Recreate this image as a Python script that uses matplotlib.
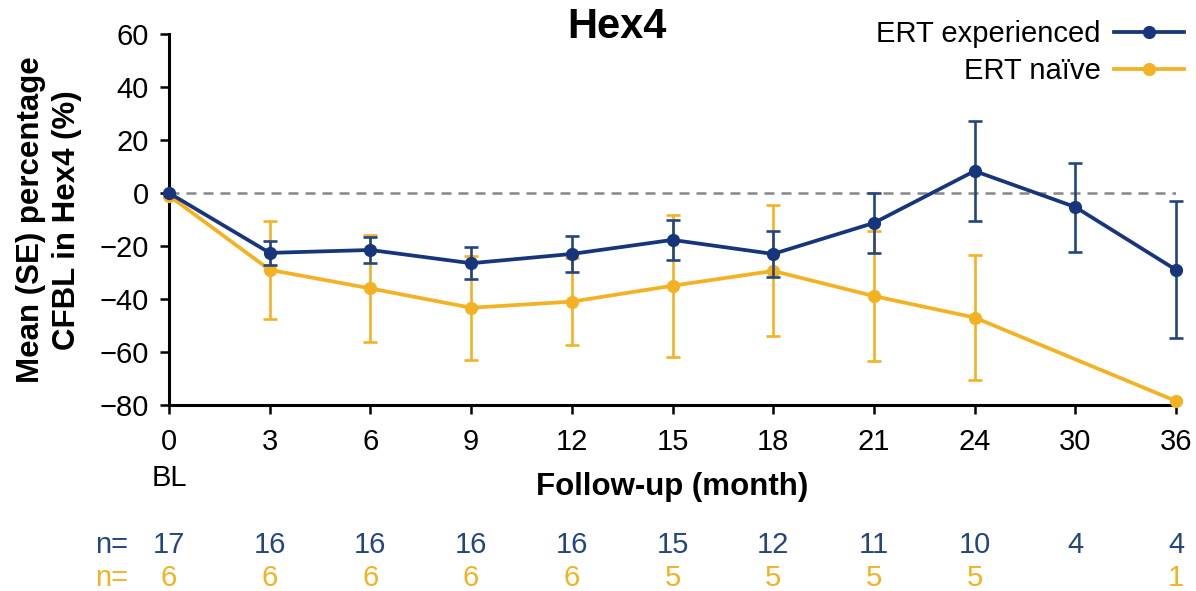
import matplotlib
matplotlib.use("Agg")
import matplotlib.pyplot as plt
from matplotlib.lines import Line2D
import numpy as np

plt.rcParams['font.family'] = ['Liberation Sans', 'DejaVu Sans']

# data
months = ['0', '3', '6', '9', '12', '15', '18', '21', '24', '30', '36']
exp_mean = [0, -22.6, -21.5, -26.5, -23.0, -17.7, -23.0, -11.3, 8.3, -5.3, -29.0]
exp_se = [0, 4.5, 5.0, 6.0, 6.7, 7.7, 8.7, 11.3, 18.8, 16.8, 25.8]
naive_mean = [-1.0, -29.0, -36.0, -43.3, -41.0, -35.0, -29.4, -38.9, -47.0, np.nan, -78.5]
naive_se = [0, 18.6, 20.3, 19.7, 16.5, 26.8, 24.7, 24.5, 23.6, np.nan, 0]
n_exp = ['17', '16', '16', '16', '16', '15', '12', '11', '10', '4', '4']
n_naive = ['6', '6', '6', '6', '6', '5', '5', '5', '5', '', '1']

blue = '#16357a'
blue_err = '#24467f'
orange = '#f4b223'

W, H = 1196, 591
fig = plt.figure(figsize=(W / 100, H / 100), dpi=100)
ax = fig.add_axes([169 / W, 1 - 405 / H, (1176 - 169) / W, (405 - 34) / H])

x = np.arange(len(months))

# orange drawn first, blue on top
nm = np.array(naive_mean)
ok = ~np.isnan(nm)
ax.plot(x[ok], nm[ok], '-', color=orange, lw=2.7, zorder=3, clip_on=False)
ax.plot(x[ok], nm[ok], 'o', color=orange, ms=8.5, zorder=3, clip_on=False)
ax.errorbar(x[ok][1:-1], nm[ok][1:-1], yerr=np.array(naive_se)[ok][1:-1], fmt='none',
            ecolor=orange, elinewidth=1.9, capsize=5, capthick=1.9, zorder=2, clip_on=False)

ax.plot(x, exp_mean, '-', color=blue, lw=2.7, zorder=5, clip_on=False)
ax.plot(x, exp_mean, 'o', color=blue, ms=8.5, zorder=5, clip_on=False)
ax.errorbar(x[1:], exp_mean[1:], yerr=exp_se[1:], fmt='none',
            ecolor=blue_err, elinewidth=1.9, capsize=5, capthick=1.9, zorder=4, clip_on=False)

ax.axhline(0, color='#888888', lw=1.8, ls=(0, (4, 2.8)), zorder=1)

ax.set_xlim(0, len(months) - 1)
ax.set_ylim(-80, 60)
ax.set_xticks(x)
ax.set_xticklabels(months)
ax.set_yticks(np.arange(-80, 61, 20))
ax.set_yticklabels([str(v).replace('-', '\u2212') for v in range(-80, 61, 20)])
ax.tick_params(direction='out', length=6.5, width=1.8, labelsize=21, color='black')
ax.tick_params(axis='x', pad=10)
ax.tick_params(axis='y', pad=8)
for s in ['top', 'right']:
    ax.spines[s].set_visible(False)
for s in ['left', 'bottom']:
    ax.spines[s].set_linewidth(2.2)

fig.text(672 / W, 1 - 487 / H, 'Follow-up (month)', ha='center', va='center',
         fontsize=22.5, fontweight='bold')
fig.text(49 / W, 1 - 220 / H, 'Mean (SE) percentage\nCFBL in Hex4 (%)', rotation=90,
         ha='center', va='center', fontsize=22.5, fontweight='bold', linespacing=1.25)
fig.text(617 / W, 1 - 27 / H, 'Hex4', ha='center', va='center', fontsize=30, fontweight='bold')
fig.text(169 / W, 1 - 478 / H, 'BL', ha='center', va='center', fontsize=21)

# n counts under the axis
fig.text(112 / W, 1 - 545 / H, 'n=', color=blue_err, ha='center', va='center', fontsize=21)
fig.text(112 / W, 1 - 578 / H, 'n=', color=orange, ha='center', va='center', fontsize=21)
for i in range(len(months)):
    ax.text(i, (405 - 545) / 371, n_exp[i], transform=ax.get_xaxis_transform(), color=blue_err,
            ha='center', va='center', fontsize=21)
    ax.text(i, (405 - 578) / 371, n_naive[i], transform=ax.get_xaxis_transform(), color=orange,
            ha='center', va='center', fontsize=21)

# legend
handles = [Line2D([], [], color=blue, lw=2.7, marker='o', ms=8.5),
           Line2D([], [], color=orange, lw=2.7, marker='o', ms=8.5)]
fig.legend(handles, ['ERT experienced', 'ERT na\u00efve'], loc='upper right',
           bbox_to_anchor=(1184 / W, 1 - 20 / H), frameon=False, markerfirst=False,
           fontsize=21, handlelength=2.4, handletextpad=0.45, labelspacing=0.3,
           borderpad=0, borderaxespad=0)

fig.savefig('out.png', dpi=100)
